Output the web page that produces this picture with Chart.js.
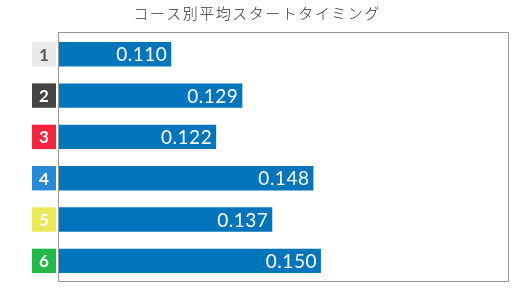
<!DOCTYPE html>
<html>
<head>
<meta charset="utf-8">
<script src="https://cdn.jsdelivr.net/npm/chart.js@4"></script>
<style>
html,body{margin:0;padding:0;background:#fff;}
#wrap{width:530px;height:290px;position:relative;}
</style>
</head>
<body>
<div id="wrap"><canvas id="c" width="530" height="290"></canvas></div>
<script>
const titleText = 'コース別平均スタートタイミング';
const courses = ['1', '2', '3', '4', '5', '6'];
const startTimings = [0.110, 0.129, 0.122, 0.148, 0.137, 0.150];
const courseBoxColors = ['#e9e9e9', '#454545', '#f5233d', '#2a88d8', '#ebe85a', '#22b84a'];
const courseTextColors = ['#555555', '#ffffff', '#ffffff', '#ffffff', '#ffffff', '#ffffff'];
const axisMin = 0.08;
const axisMax = 0.20;

const decorPlugin = {
  id: 'decor',
  afterDraw(chart) {
    const ctx = chart.ctx;
    const ys = chart.scales.y;
    // title
    ctx.save();
    ctx.fillStyle = '#333';
    ctx.font = '300 15px "Noto Sans CJK JP"';
    ctx.textAlign = 'center';
    ctx.textBaseline = 'middle';
    try { ctx.letterSpacing = '1.5px'; } catch(e) {}
    ctx.fillText(titleText, 257, 13);
    ctx.restore();
    // border
    ctx.save();
    ctx.strokeStyle = '#999';
    ctx.lineWidth = 1;
    ctx.strokeRect(58.5, 32.5, 450, 249);
    ctx.restore();
    // course boxes
    const meta = chart.getDatasetMeta(0);
    courses.forEach((c, i) => {
      const y = ys.getPixelForValue(i);
      const bar = meta.data[i];
      const h = bar.height;
      ctx.save();
      ctx.fillStyle = courseBoxColors[i];
      ctx.fillRect(32, y - h / 2, 24, h);
      ctx.fillStyle = courseTextColors[i];
      ctx.font = 'bold 17px Lato';
      ctx.textAlign = 'center';
      ctx.textBaseline = 'middle';
      ctx.fillText(c, 44, y + 1);
      ctx.restore();
      // value labels
      ctx.save();
      ctx.fillStyle = '#fff';
      ctx.font = '19px Lato';
      ctx.textAlign = 'right';
      ctx.textBaseline = 'middle';
      try { ctx.letterSpacing = '0.5px'; } catch(e) {}
      ctx.fillText(startTimings[i].toFixed(3), bar.x - 4, bar.y + 1);
      ctx.restore();
    });
  }
};

new Chart(document.getElementById('c'), {
  type: 'bar',
  data: {
    labels: courses,
    datasets: [{
      data: startTimings,
      backgroundColor: '#0075bb',
      borderWidth: 0,
      barPercentage: 0.59,
      categoryPercentage: 1.0
    }]
  },
  options: {
    indexAxis: 'y',
    responsive: false,
    animation: false,
    events: [],
    layout: { padding: { left: 59, right: 22, top: 33.6, bottom: 8.5 } },
    plugins: { legend: { display: false }, title: { display: false }, tooltip: { enabled: false } },
    scales: {
      x: { display: false, min: axisMin, max: axisMax },
      y: { display: false }
    }
  },
  plugins: [decorPlugin]
});
</script>
</body>
</html>
